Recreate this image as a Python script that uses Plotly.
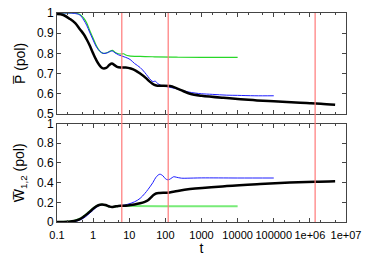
import plotly.graph_objects as go
from plotly.subplots import make_subplots

# ---- data ----
t_blk_p = [0.1, 0.15, 0.23, 0.32, 0.43, 0.55, 0.66, 0.8, 1.0, 1.2, 1.45, 1.8, 2.3, 2.8, 3.3, 3.9, 4.6, 6, 8, 11, 15, 20, 28, 37, 48, 60, 80, 134, 200, 300, 480, 1000, 4000, 6000, 2e4, 5e4, 1e5, 5.4e5, 1e6, 2e6, 5e6]
p_blk = [0.995, 0.99, 0.97, 0.95, 0.92, 0.895, 0.87, 0.84, 0.80, 0.77, 0.745, 0.727, 0.728, 0.742, 0.75, 0.742, 0.733, 0.73, 0.73, 0.725, 0.715, 0.70, 0.68, 0.66, 0.645, 0.64, 0.64, 0.638, 0.628, 0.615, 0.60, 0.59, 0.58, 0.578, 0.57, 0.565, 0.563, 0.556, 0.553, 0.55, 0.545]

t_blu_p = [0.1, 0.2, 0.3, 0.43, 0.55, 0.66, 0.8, 1.0, 1.25, 1.55, 1.9, 2.4, 3.0, 3.4, 4.0, 5.0, 6.2, 8, 10.5, 14, 20, 27, 33, 40, 46, 52, 60, 75, 100, 134, 180, 250, 400, 700, 1000, 2000, 5000, 1e4, 3e4, 1e5]
p_blu = [1.0, 1.0, 0.998, 0.99, 0.965, 0.94, 0.905, 0.866, 0.83, 0.81, 0.80, 0.802, 0.81, 0.812, 0.803, 0.793, 0.787, 0.78, 0.77, 0.75, 0.73, 0.705, 0.685, 0.667, 0.66, 0.663, 0.652, 0.642, 0.637, 0.632, 0.627, 0.62, 0.61, 0.603, 0.60, 0.597, 0.593, 0.592, 0.59, 0.59]

t_grn_p = [0.1, 0.2, 0.3, 0.43, 0.55, 0.66, 0.8, 1.0, 1.25, 1.55, 1.9, 2.4, 3.0, 3.4, 4.0, 5.0, 6.0, 7, 8, 10, 20, 50, 200, 1000, 1e4]
p_grn = [1.0, 1.0, 1.0, 0.993, 0.975, 0.952, 0.915, 0.875, 0.835, 0.81, 0.80, 0.803, 0.812, 0.815, 0.806, 0.798, 0.797, 0.798, 0.792, 0.788, 0.785, 0.783, 0.781, 0.78, 0.78]

t_blk_w = [0.1, 0.2, 0.3, 0.43, 0.55, 0.7, 0.9, 1.1, 1.4, 1.75, 2.2, 2.8, 3.3, 4.0, 5, 6.2, 9, 14, 20, 27, 33, 40, 47, 55, 70, 118, 180, 480, 5000, 4.2e4, 2.8e5, 1.4e6, 5e6]
w_blk = [0.0, 0.003, 0.01, 0.03, 0.055, 0.085, 0.12, 0.148, 0.17, 0.177, 0.172, 0.158, 0.152, 0.157, 0.163, 0.165, 0.168, 0.178, 0.19, 0.205, 0.22, 0.25, 0.275, 0.29, 0.295, 0.298, 0.31, 0.335, 0.365, 0.385, 0.40, 0.41, 0.415]

t_blu_w = [0.1, 0.3, 0.43, 0.55, 0.7, 0.9, 1.1, 1.4, 1.75, 2.2, 2.8, 3.3, 4, 5, 6.2, 9, 14, 20, 27, 33, 45, 55, 70, 85, 100, 118, 140, 170, 200, 280, 400, 1000, 1e4, 1e5]
w_blu = [0.0, 0.005, 0.02, 0.04, 0.07, 0.105, 0.135, 0.162, 0.175, 0.172, 0.16, 0.155, 0.158, 0.163, 0.167, 0.18, 0.205, 0.24, 0.29, 0.33, 0.40, 0.455, 0.485, 0.47, 0.44, 0.428, 0.44, 0.46, 0.455, 0.445, 0.445, 0.448, 0.447, 0.447]

t_grn_w = [0.1, 0.2, 0.3, 0.43, 0.55, 0.7, 0.9, 1.1, 1.4, 1.75, 2.2, 2.8, 3.3, 4, 5, 6.2, 10, 100, 1e4]
w_grn = [0.0, 0.005, 0.013, 0.033, 0.058, 0.09, 0.125, 0.15, 0.17, 0.177, 0.17, 0.157, 0.152, 0.157, 0.162, 0.163, 0.162, 0.16, 0.16]

t_marks = [6.2, 120, 1.4e6]

x_tickvals = [0.1, 1, 10, 100, 1000, 10000, 100000, 1e6, 1e7]
x_ticktext = ["0.1", "1", "10", "100", "1000", "10000", "100000", "1e+06", "1e+07"]
yp_tickvals = [0.5, 0.6, 0.7, 0.8, 0.9, 1]
yp_ticktext = ["0.5", "0.6", "0.7", "0.8", "0.9", "1"]
yw_tickvals = [0, 0.2, 0.4, 0.6, 0.8, 1]
yw_ticktext = ["0", "0.2", "0.4", "0.6", "0.8", "1"]

# ---- figure ----
fig = make_subplots(rows=2, cols=1, shared_xaxes=False, vertical_spacing=0.046)

BLUE = "rgb(30,30,255)"
GREEN = "rgb(40,215,40)"
GREEN2 = "rgb(120,235,120)"

fig.add_trace(go.Scatter(x=t_grn_p, y=p_grn, mode="lines", line=dict(color=GREEN, width=1.2, shape="spline"), showlegend=False), row=1, col=1)
fig.add_trace(go.Scatter(x=t_blu_p, y=p_blu, mode="lines", line=dict(color=BLUE, width=1, shape="spline"), showlegend=False), row=1, col=1)
fig.add_trace(go.Scatter(x=t_blk_p, y=p_blk, mode="lines", line=dict(color="black", width=2.5, shape="spline"), showlegend=False), row=1, col=1)

fig.add_trace(go.Scatter(x=t_grn_w, y=w_grn, mode="lines", line=dict(color=GREEN2, width=2, shape="spline"), showlegend=False), row=2, col=1)
fig.add_trace(go.Scatter(x=t_blu_w, y=w_blu, mode="lines", line=dict(color=BLUE, width=1, shape="spline"), showlegend=False), row=2, col=1)
fig.add_trace(go.Scatter(x=t_blk_w, y=w_blk, mode="lines", line=dict(color="black", width=2.5, shape="spline"), showlegend=False), row=2, col=1)

for tm in t_marks:
    fig.add_shape(type="line", xref="x", yref="paper", x0=tm, x1=tm, y0=0, y1=1,
                  line=dict(color="rgba(255,120,120,0.8)", width=1.5), layer="above")

font = dict(family="Liberation Sans, Arial, sans-serif", size=12, color="black")
axis_common = dict(showline=True, linecolor="#444", linewidth=1, mirror="ticks", automargin=False,
                   ticks="inside", ticklen=4, tickcolor="#444", showgrid=False, zeroline=False)

fig.update_xaxes(type="log", range=[-1, 7], tickvals=x_tickvals, ticktext=x_ticktext, tickangle=0,
                 tickfont=dict(size=11), ticklabelstandoff=3,
                 minor=dict(ticks="inside", ticklen=2, tickcolor="#444", dtick="D2"), **axis_common)
fig.update_xaxes(showticklabels=False, row=1, col=1)
fig.update_xaxes(title=dict(text="t", standoff=1), row=2, col=1)

fig.update_yaxes(range=[0.5, 1], tickvals=yp_tickvals, ticktext=yp_ticktext,
                 title=dict(text="P\u0305 (pol)", standoff=8), row=1, col=1, **axis_common)
fig.update_yaxes(range=[0, 1], tickvals=yw_tickvals, ticktext=yw_ticktext,
                 title=dict(text="W\u0305<sub>1,2</sub> (pol)", standoff=8), row=2, col=1, **axis_common)

fig.update_layout(width=365, height=256, margin=dict(l=57, r=19, t=13, b=34),
                  plot_bgcolor="white", paper_bgcolor="white", font=font)
fig.layout.yaxis.domain = [0.517, 1.0]
fig.layout.yaxis2.domain = [0.0, 0.471]

fig.write_html("out.html", config={"displayModeBar": False},
               post_script="document.body.style.margin='0px';document.body.style.overflow='hidden';")
